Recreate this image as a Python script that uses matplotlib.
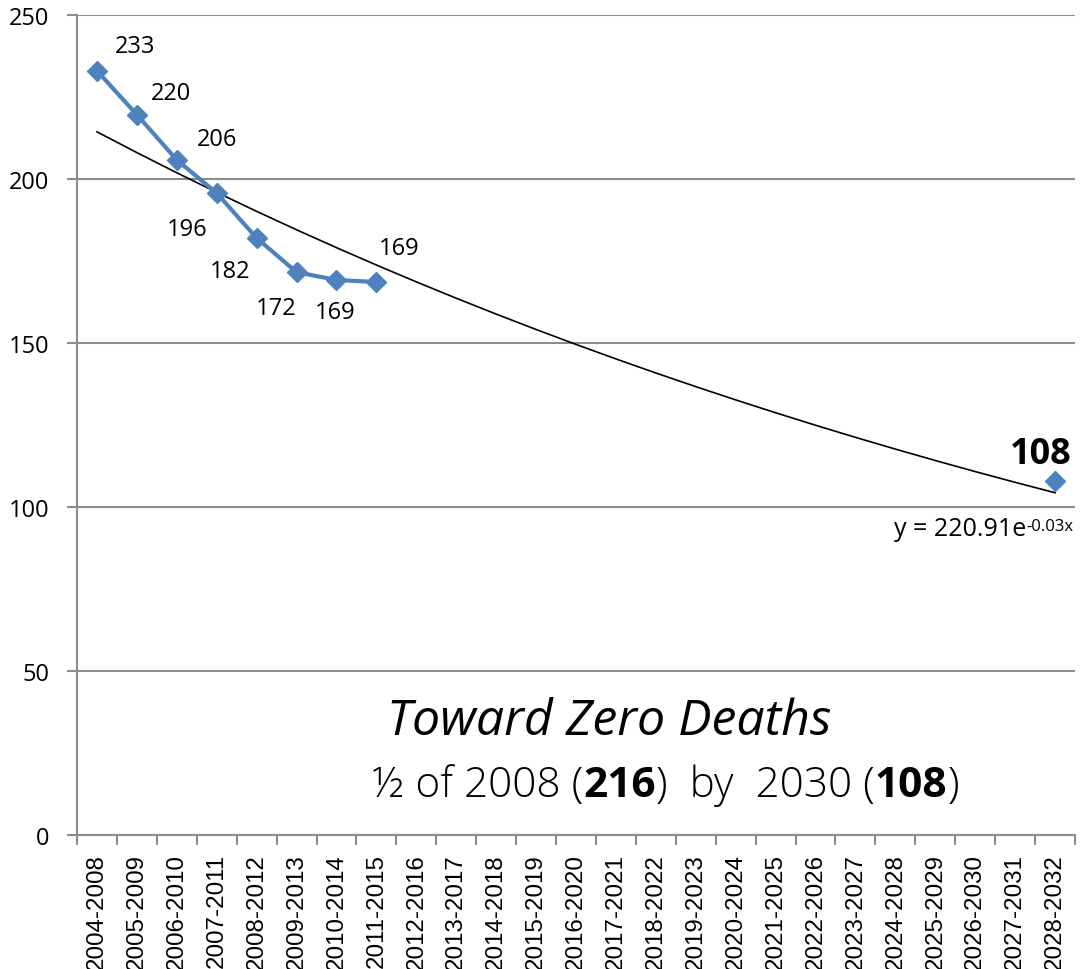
import numpy as np
import matplotlib
matplotlib.use('Agg')
import matplotlib.pyplot as plt

# Categories (5-year windows)
periods = ['2004-2008', '2005-2009', '2006-2010', '2007-2011', '2008-2012',
           '2009-2013', '2010-2014', '2011-2015', '2012-2016', '2013-2017',
           '2014-2018', '2015-2019', '2016-2020', '2017-2021', '2018-2022',
           '2019-2023', '2020-2024', '2021-2025', '2022-2026', '2023-2027',
           '2024-2028', '2025-2029', '2026-2030', '2027-2031', '2028-2032']

# Observed 5-year averages
actual = [233, 219.6, 205.8, 195.7, 182, 171.6, 169.2, 168.6]
# Goal for 2028-2032
goal = 107.9

# Exponential trendline shown on the chart: y = a * e^(b x)
trend_a = 220.91
trend_b = -0.03

blue = '#4F81BD'
grid_gray = '#8C8C8C'

n = len(periods)
xs = np.arange(n)
series = np.full(n, np.nan)
series[:len(actual)] = actual
series[-1] = goal

fig = plt.figure(figsize=(10.85, 9.7), dpi=100)
ax = fig.add_axes([77 / 1085, 134 / 970, 998 / 1085, 820 / 970])

# trendline
trend_y = trend_a * np.exp(trend_b * (xs + 1))
ax.plot(xs, trend_y, color='black', lw=1.2, zorder=2)

# series
ax.plot(xs, series, color=blue, lw=3, marker='D', ms=10, zorder=3)

# data labels (offsets in pixels)
offsets = [(38, 25), (34, 22), (40, 21), (-30, -36), (-27, -33),
           (-20, -36), (-1, -32), (23, 34)]
for i, v in enumerate(actual):
    ax.annotate(f'{v:.0f}', (xs[i], v), textcoords='offset pixels',
                xytext=offsets[i], ha='center', va='center',
                fontsize=17, family='Open Sans')
ax.annotate(f'{goal:.0f}', (xs[-1], goal), textcoords='offset pixels',
            xytext=(-14, 27), ha='center', va='center',
            fontsize=26, fontweight='bold', family='Open Sans')

# trendline equation: superscript anchored at the right, base text to its left
sup = ax.text(0.998, 0.367, '-0.03x', transform=ax.transAxes,
              ha='right', va='bottom', fontsize=12, family='Open Sans')
ax.annotate('y = 220.91e', xy=(0, -0.45), xycoords=sup, ha='right', va='bottom',
            fontsize=18, family='Open Sans')

ax.set_xlim(-0.5, n - 0.5)
ax.set_ylim(0, 250)
ax.set_yticks(range(0, 251, 50))
ax.set_xticks(xs)
ax.set_xticklabels(periods, rotation=90, family='Liberation Sans', fontsize=17.4)
ax.set_xticks(np.arange(n + 1) - 0.5, minor=True)
ax.tick_params(axis='x', which='major', length=0, pad=13)
ax.tick_params(axis='x', which='minor', length=7, width=1.5, color=grid_gray)
ax.tick_params(axis='y', length=7, width=1.5, color=grid_gray, pad=13)
for lbl in ax.get_yticklabels():
    lbl.set_family('Open Sans')
    lbl.set_fontsize(17)

ax.grid(axis='y', color=grid_gray, lw=1.5)
ax.set_axisbelow(True)
for side in ['top', 'right']:
    ax.spines[side].set_visible(False)
for side in ['left', 'bottom']:
    ax.spines[side].set_color(grid_gray)
    ax.spines[side].set_linewidth(1.5)

# title block
fig.text(609 / 1085, 1 - 722 / 970, 'Toward Zero Deaths', ha='center', va='center',
         fontsize=36, style='italic', family='Open Sans')

pieces = [('½ of 2008 (', 'light'), ('216', 'bold'), (')  by  2030 (', 'light'),
          ('108', 'bold'), (')', 'light')]
t = fig.text(373 / 1085, 1 - 797 / 970, pieces[0][0], ha='left', va='baseline',
             fontsize=30.5, fontweight=pieces[0][1], family='Open Sans')
for txt, w in pieces[1:]:
    t = ax.annotate(txt, xy=(1, 0), xycoords=t, ha='left', va='bottom',
                    fontsize=30.5, fontweight=w, family='Open Sans')

fig.savefig('out.png', dpi=100)
